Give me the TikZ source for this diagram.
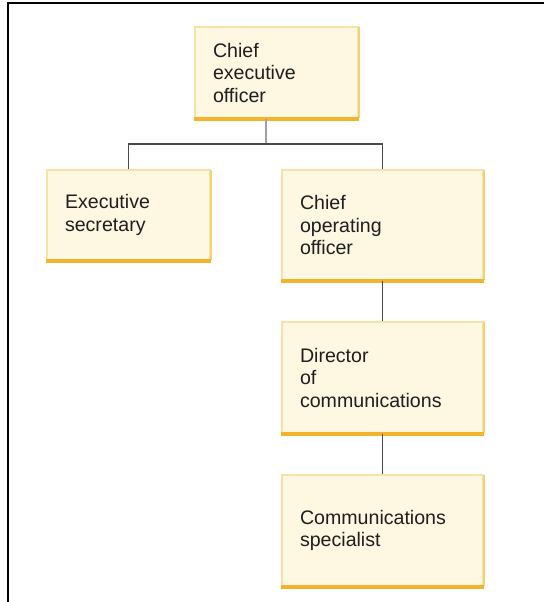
\documentclass[tikz,border=0pt]{standalone}
\usepackage{fontspec}
\setmainfont{Liberation Sans}
\definecolor{boxfill}{HTML}{FEF8E2}
\definecolor{boxedge}{HTML}{F7E1A8}
\definecolor{boxright}{HTML}{F6D172}
\definecolor{boxbottom}{HTML}{F4B42A}
\definecolor{txt}{HTML}{1E1E1E}
\definecolor{conn}{HTML}{4A4A4A}
\definecolor{stubc}{HTML}{A0A0A0}
\tikzset{
  orgbox/.style={rectangle, fill=boxfill, draw=boxedge, line width=1.4pt,
    align=left, inner xsep=18pt, inner ysep=0pt, anchor=center,
    font=\fontsize{19.6}{22.5}\selectfont, text=txt},
  edgeR/.style={draw=boxright, line width=2.2pt},
  edgeB/.style={draw=boxbottom, line width=3.8pt},
  connector/.style={draw=conn, line width=1.9pt},
  stub/.style={draw=stubc, line width=2pt},
  frameline/.style={draw=black, line width=1.6pt}
}
\begin{document}
\begin{tikzpicture}[x=1pt,y=-1pt]
\useasboundingbox (0,0) rectangle (544,602);
% frame
\coordinate (ftl) at (8,3);
\coordinate (fbl) at (8,602);
\coordinate (ftr) at (544,3);
\draw[frameline] (fbl) -- (ftl) -- (ftr);

\node[orgbox, text width=127pt, minimum height=91pt] (ceo) at (276.5,72.5) {Chief\\executive\\officer};
\node[orgbox, text width=127pt, minimum height=90pt] (sec) at (128.5,215) {Executive\\secretary};
\node[orgbox, text width=165pt, minimum height=110pt] (coo) at (382.5,225) {Chief\\operating\\officer};
\node[orgbox, text width=165pt, minimum height=111pt] (dir) at (382.5,377.5) {Director\\of\\communications};
\node[orgbox, text width=165pt, minimum height=111pt] (spec) at (382.5,530.5) {Communications\\specialist};

\foreach \n in {ceo,sec,coo,dir,spec}{
  \draw[edgeR] ([yshift=-1pt]\n.north east) -- ([yshift=1pt]\n.south east);
  \draw[edgeB] ([xshift=-0.5pt]\n.south west) -- ([xshift=0.5pt]\n.south east);
}

% connectors
\coordinate (j) at (266,144);
\draw[stub] (ceo.south -| j) -- (j);
\draw[connector] (sec.north) -- (sec.north |- j) -- (coo.north |- j) -- (coo.north);
\draw[connector] (coo.south) -- (dir.north);
\draw[connector] (dir.south) -- (spec.north);
\end{tikzpicture}
\end{document}
